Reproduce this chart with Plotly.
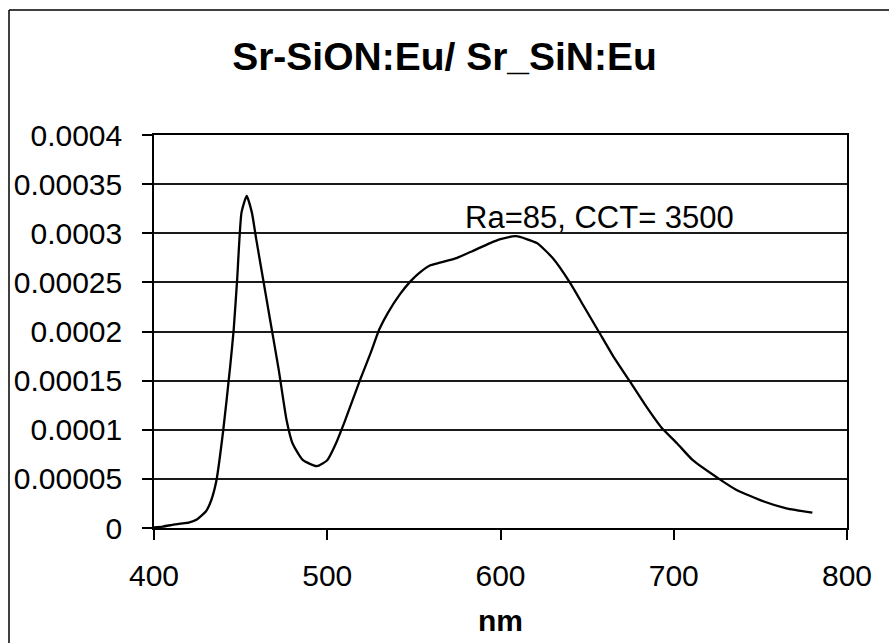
import plotly.graph_objects as go

# Emission spectrum (wavelength in nm, intensity in arbitrary units)
wavelength_nm = [400, 405, 410, 415, 420, 425, 430, 433, 436, 440, 444, 446, 448,
                 450.5, 453.5, 456.5, 459, 463, 467, 472, 476.5, 480, 486, 494,
                 500, 505, 510, 519, 525, 530, 535, 542, 548, 552, 559, 565, 575,
                 584, 594, 600, 609, 621, 630, 640, 648, 657, 665, 674, 684, 693,
                 702, 711, 727, 736, 752, 765, 780]
intensity = [0.5e-6, 1.5e-6, 3e-6, 4.5e-6, 5.5e-6, 9e-6, 17e-6, 28e-6, 48e-6,
             100e-6, 165e-6, 202e-6, 253e-6, 321e-6, 338e-6, 321e-6, 294e-6,
             253e-6, 212e-6, 161e-6, 110e-6, 86e-6, 69e-6, 63e-6, 69e-6, 86e-6,
             108e-6, 151e-6, 178e-6, 202e-6, 219e-6, 238e-6, 251e-6, 258e-6,
             267e-6, 270e-6, 275e-6, 282e-6, 290e-6, 294e-6, 297e-6, 290e-6,
             275e-6, 250e-6, 226e-6, 199e-6, 175e-6, 151e-6, 124e-6, 102e-6,
             86e-6, 69e-6, 49e-6, 39e-6, 27e-6, 20e-6, 15.6e-6]

y_tickvals = [0, 0.00005, 0.0001, 0.00015, 0.0002, 0.00025, 0.0003, 0.00035, 0.0004]
y_ticktext = ["0", "0.00005", "0.0001", "0.00015", "0.0002", "0.00025", "0.0003",
              "0.00035", "0.0004"]
x_tickvals = [400, 500, 600, 700, 800]

title_text = "Sr-SiON:Eu/ Sr_SiN:Eu"
note_text = "Ra=85, CCT= 3500"

FONT = "Arial, Liberation Sans, sans-serif"

fig = go.Figure()
fig.add_trace(go.Scatter(
    x=wavelength_nm, y=intensity, mode="lines",
    line=dict(color="black", width=2.3, shape="spline", smoothing=0.5),
    showlegend=False, hoverinfo="skip",
))

fig.add_annotation(
    x=657, y=0.0003160, xref="x", yref="y", text=note_text,
    showarrow=False, font=dict(family=FONT, size=31, color="black"),
    xanchor="center", yanchor="middle",
)

# Plot area geometry in pixels (used for the outer frame)
W, H = 889, 643
L, R, T, B = 154, 42, 135, 115
pw, ph = W - L - R, H - T - B

def px_x(p):
    return (p - L) / pw

def px_y(p):
    return (H - B - p) / ph

fig.add_shape(type="line", xref="paper", yref="paper",
              x0=px_x(9), x1=px_x(900), y0=px_y(10), y1=px_y(10),
              line=dict(color="black", width=1.5))
fig.add_shape(type="line", xref="paper", yref="paper",
              x0=px_x(9), x1=px_x(9), y0=px_y(10), y1=px_y(660),
              line=dict(color="black", width=1.5))

fig.update_layout(
    width=W, height=H,
    margin=dict(l=L, r=R, t=T, b=B, pad=0),
    paper_bgcolor="white", plot_bgcolor="white",
    font=dict(family=FONT, size=30, color="black"),
    title=dict(text="<b>" + title_text + "</b>", x=0.5, xref="container",
               xanchor="center", y=1 - 56 / H, yanchor="middle",
               font=dict(family=FONT, size=39, color="black")),
    xaxis=dict(
        range=[400, 800], tickvals=x_tickvals, ticks="outside", ticklen=10,
        tickwidth=1.5, tickcolor="black", showline=True, linecolor="black",
        linewidth=1.5, mirror=True, showgrid=False, zeroline=False,
        ticklabelstandoff=10,
        title=dict(text="<b>nm</b>", font=dict(family=FONT, size=30), standoff=19),
    ),
    yaxis=dict(
        range=[0, 0.0004], tickvals=y_tickvals, ticktext=y_ticktext,
        ticks="outside", ticklen=10, tickwidth=1.5, tickcolor="black",
        showline=True, linecolor="black", linewidth=1.5, mirror=True,
        showgrid=True, gridcolor="#1a1a1a", gridwidth=1.5, zeroline=False,
        ticklabelstandoff=14,
    ),
)

fig.write_html("out.html")
